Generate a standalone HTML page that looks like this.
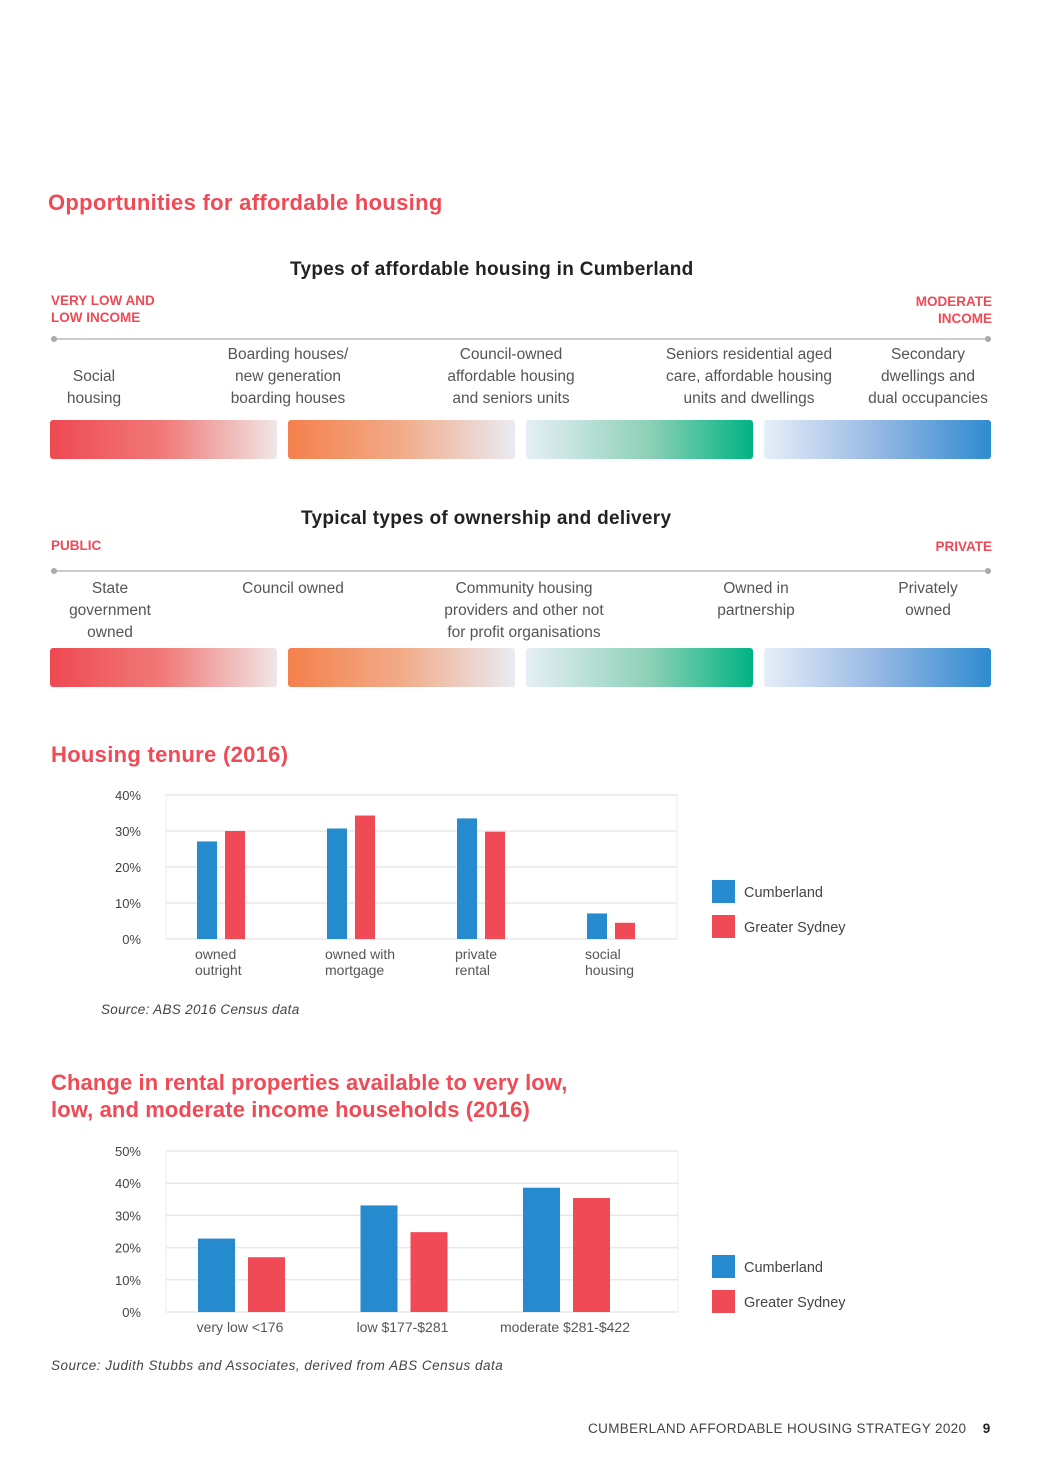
<!DOCTYPE html>
<html><head><meta charset="utf-8">
<style>
body{margin:0;width:1041px;height:1484px;background:#fff;font-family:"Liberation Sans",sans-serif;position:relative;overflow:hidden}
.a{position:absolute}
.h1{font-size:22px;color:#ef4a55;font-weight:bold;letter-spacing:0.3px}
.h2{font-size:19px;color:#222;font-weight:bold;letter-spacing:0.3px}
.cap{font-size:13.5px;font-weight:bold;color:#ef4a55;line-height:17px}
.lbl{font-size:15.5px;color:#555;line-height:22px;text-align:center}
.bar{position:absolute;height:39px;border-radius:3px;width:227px}
.line{position:absolute;height:2px;background:#ccc}
.dot{position:absolute;width:6px;height:6px;border-radius:3px;background:#aaa}
</style></head><body>
<div class="a h1" style="left:48px;top:190px">Opportunities for affordable housing</div>

<div class="a h2" style="left:290px;top:259px">Types of affordable housing in Cumberland</div>
<div class="a cap" style="left:51px;top:292px">VERY LOW AND<br>LOW INCOME</div>
<div class="a cap" style="right:49px;top:293px;text-align:right">MODERATE<br>INCOME</div>
<div class="line" style="left:54px;top:338px;width:934px"></div>
<div class="dot" style="left:51px;top:336px"></div>
<div class="dot" style="left:985px;top:336px"></div>
<div class="a lbl" style="left:34px;width:120px;top:366px">Social<br>housing</div>
<div class="a lbl" style="left:188px;width:200px;top:344px">Boarding houses/<br>new generation<br>boarding houses</div>
<div class="a lbl" style="left:411px;width:200px;top:344px">Council-owned<br>affordable housing<br>and seniors units</div>
<div class="a lbl" style="left:644px;width:210px;top:344px">Seniors residential aged<br>care, affordable housing<br>units and dwellings</div>
<div class="a lbl" style="left:853px;width:150px;top:344px">Secondary<br>dwellings and<br>dual occupancies</div>
<div class="bar" style="left:50px;top:420px;background:linear-gradient(90deg,#ef4853,#f07a78 50%,#f1e6e6)"></div>
<div class="bar" style="left:288px;top:420px;background:linear-gradient(90deg,#f4804c,#f2ab88 50%,#e9ebf2)"></div>
<div class="bar" style="left:526px;top:420px;background:linear-gradient(90deg,#e6eff6,#8bd0b6 55%,#00b383)"></div>
<div class="bar" style="left:764px;top:420px;background:linear-gradient(90deg,#e7eef9,#96b8e4 50%,#2f8bd0)"></div>

<div class="a h2" style="left:301px;top:508px">Typical types of ownership and delivery</div>
<div class="a cap" style="left:51px;top:537px">PUBLIC</div>
<div class="a cap" style="right:49px;top:538px">PRIVATE</div>
<div class="line" style="left:54px;top:570px;width:934px"></div>
<div class="dot" style="left:51px;top:568px"></div>
<div class="dot" style="left:985px;top:568px"></div>
<div class="a lbl" style="left:40px;width:140px;top:578px">State<br>government<br>owned</div>
<div class="a lbl" style="left:213px;width:160px;top:578px">Council owned</div>
<div class="a lbl" style="left:414px;width:220px;top:578px">Community housing<br>providers and other not<br>for profit organisations</div>
<div class="a lbl" style="left:686px;width:140px;top:578px">Owned in<br>partnership</div>
<div class="a lbl" style="left:863px;width:130px;top:578px">Privately<br>owned</div>
<div class="bar" style="left:50px;top:648px;background:linear-gradient(90deg,#ef4853,#f07a78 50%,#f1e6e6)"></div>
<div class="bar" style="left:288px;top:648px;background:linear-gradient(90deg,#f4804c,#f2ab88 50%,#e9ebf2)"></div>
<div class="bar" style="left:526px;top:648px;background:linear-gradient(90deg,#e6eff6,#8bd0b6 55%,#00b383)"></div>
<div class="bar" style="left:764px;top:648px;background:linear-gradient(90deg,#e7eef9,#96b8e4 50%,#2f8bd0)"></div>

<div class="a h1" style="left:51px;top:742px">Housing tenure (2016)</div>
<div class="a h1" style="left:51px;top:1069px;line-height:27px;letter-spacing:0.1px">Change in rental properties available to very low,<br>low, and moderate income households (2016)</div>
<div class="a" style="left:101px;top:1002px;font-size:13.5px;font-style:italic;color:#444;letter-spacing:0.3px">Source: ABS 2016 Census data</div>
<div class="a" style="left:51px;top:1358px;font-size:13.5px;font-style:italic;color:#444;letter-spacing:0.5px">Source: Judith Stubbs and Associates, derived from ABS Census data</div>
<div class="a" style="left:588px;top:1421px;font-size:13.5px;color:#444;letter-spacing:0.35px">CUMBERLAND AFFORDABLE HOUSING STRATEGY 2020 &nbsp;&nbsp;&nbsp;<b style="color:#222">9</b></div>

<svg class="a" style="left:0;top:0" width="1041" height="1484" font-family="Liberation Sans, sans-serif">
<g id="c1"></g>
<g id="c2"></g>
</svg>
<script>
const cats1=["owned|outright","owned with|mortgage","private|rental","social|housing"];
const cumb1=[27.1,30.7,33.5,7.1];
const syd1=[30,34.3,29.8,4.5];
const ticks1=[0,10,20,30,40];
const cats2=["very low <176","low $177-$281","moderate $281-$422"];
const cumb2=[22.8,33.1,38.6];
const syd2=[17,24.8,35.4];
const ticks2=[0,10,20,30,40,50];
const NS="http://www.w3.org/2000/svg";
function mk(p,t,a,txt){const e=document.createElementNS(NS,t);for(const k in a)e.setAttribute(k,a[k]);if(txt!=null)e.textContent=txt;p.appendChild(e);return e;}
function chart(g,o){
  const y=v=>o.y0-v*o.py;
  mk(g,'rect',{x:o.x0,y:y(o.max),width:o.x1-o.x0,height:o.y0-y(o.max),fill:'none',stroke:'#eee'});
  o.ticks.forEach(t=>{
    const l=mk(g,'line',{x1:o.x0,x2:o.x1,y1:y(t),y2:y(t),stroke:'#e8e8e8','stroke-width':1.5});
    
    
    const tx=mk(g,'text',{x:141,y:y(t)+5,'text-anchor':'end','font-size':13,fill:'#444'},t+'%');
    
    
  });
  o.cats.forEach((c,i)=>{
    const gx=o.gx0+i*o.step;
    const b1=mk(g,'rect',{x:gx,y:y(o.c[i]),width:o.bw,height:o.c[i]*o.py,fill:'#258ace'});
    
    
    const b2=mk(g,'rect',{x:gx+o.gap,y:y(o.s[i]),width:o.bw,height:o.s[i]*o.py,fill:'#ef4a55'});
    
    
    c.split('|').forEach((ln,j)=>{
      const t=mk(g,'text',{x:gx+o.lx,y:o.y0+20+j*16,'text-anchor':o.anchor,'font-size':14,fill:'#555'},ln);
      
      
    });
  });
  [['Cumberland','#258ace'],['Greater Sydney','#ef4a55']].forEach((L,k)=>{
    const r=mk(g,'rect',{x:712,y:o.ly+k*35,width:23,height:23,fill:L[1]});
    
    
    const t=mk(g,'text',{x:744,y:o.ly+k*35+17,'font-size':14.5,fill:'#444'},L[0]);
    
    
  });
}
chart(document.getElementById('c1'),{x0:166,x1:677,y0:939,py:3.6,max:40,ticks:ticks1,cats:cats1,c:cumb1,s:syd1,gx0:197,step:130,bw:20,gap:28,lx:-2,anchor:'start',ly:880});
chart(document.getElementById('c2'),{x0:166,x1:678,y0:1312,py:3.22,max:50,ticks:ticks2,cats:cats2,c:cumb2,s:syd2,gx0:198,step:162.5,bw:37,gap:50,lx:42,anchor:'middle',ly:1255});
</script>
</body></html>
